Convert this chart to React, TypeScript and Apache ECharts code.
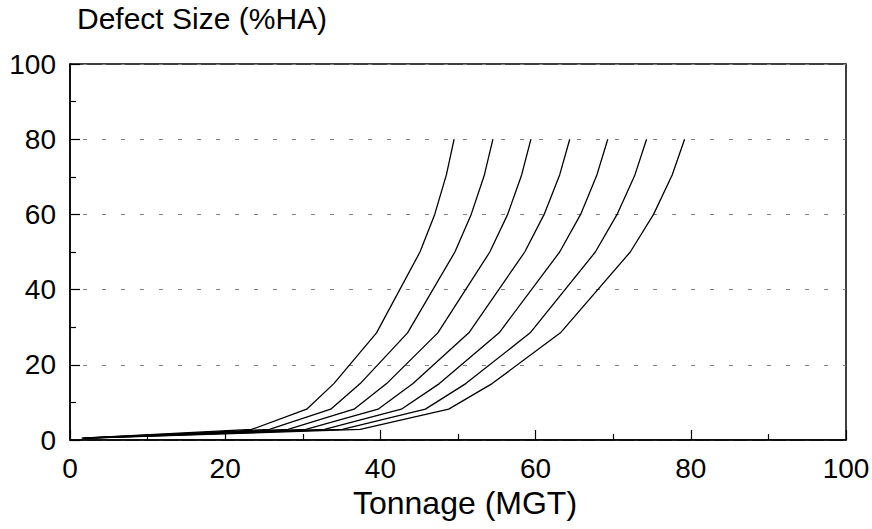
import React, { useEffect, useRef } from "react";
import * as echarts from "echarts";

// Defect size (%HA) at each vertex, shared by all curves
const defectSize = [0.5, 2.8, 8.2, 15, 28.5, 50, 60, 70.5, 80];

// Tonnage (MGT) at each vertex for the seven curves
const tonnage1 = [1.5, 23.4, 30.5, 34.0, 39.5, 45.1, 47.0, 48.5, 49.5];
const tonnage2 = [1.6, 25.7, 33.6, 37.4, 43.5, 49.6, 51.7, 53.4, 54.5];
const tonnage3 = [1.8, 28.1, 36.6, 40.8, 47.4, 54.1, 56.4, 58.2, 59.4];
const tonnage4 = [1.9, 30.4, 39.7, 44.2, 51.4, 58.6, 61.1, 63.1, 64.4];
const tonnage5 = [2.1, 32.8, 42.7, 47.6, 55.3, 63.1, 65.8, 67.9, 69.3];
const tonnage6 = [2.2, 35.1, 45.8, 51.0, 59.3, 67.7, 70.5, 72.8, 74.3];
const tonnage7 = [2.4, 37.4, 48.8, 54.4, 63.2, 72.2, 75.2, 77.6, 79.2];

const curves = [tonnage1, tonnage2, tonnage3, tonnage4, tonnage5, tonnage6, tonnage7];

const xTitle = "Tonnage (MGT)";
const yTitle = "Defect Size (%HA)";

const FONT = "Liberation Sans";

export default function App() {
  const ref = useRef<HTMLDivElement>(null);

  useEffect(() => {
    if (!ref.current) return;
    const chart = echarts.init(ref.current, null, { renderer: "svg" });
    const labelStyle = { color: "#000", fontFamily: FONT, fontSize: 28 };
    const axisCommon = {
      type: "value" as const,
      min: 0,
      max: 100,
      interval: 20,
      axisLine: { show: true, lineStyle: { color: "#000", width: 1.5 } },
      axisTick: { show: true, inside: true, length: 10, lineStyle: { color: "#000", width: 1.2 } },
      minorTick: { show: true, splitNumber: 2, length: 6, lineStyle: { color: "#000", width: 1.2 } },
    };
    chart.setOption({
      animation: false,
      backgroundColor: "#fff",
      textStyle: { fontFamily: FONT },
      grid: {
        left: 70,
        right: 26,
        top: 64,
        bottom: 89,
        show: true,
        borderColor: "#000",
        borderWidth: 1.5,
        backgroundColor: "transparent",
        outerBoundsMode: "none",
        containLabel: false,
      },
      xAxis: {
        ...axisCommon,
        axisLabel: { ...labelStyle, margin: 14, lineHeight: 28 },
        splitLine: { show: false },
      },
      yAxis: {
        ...axisCommon,
        axisLabel: { ...labelStyle, margin: 14 },
        splitLine: {
          show: true,
          lineStyle: { color: "#808080", width: 1.2, type: [4, 15], dashOffset: 6 },
        },
      },
      graphic: [
        {
          type: "text",
          x: 77,
          y: 3,
          style: { text: yTitle, fontFamily: FONT, fontSize: 30, fill: "#000", align: "left", verticalAlign: "top" },
        },
        {
          type: "text",
          x: 465,
          y: 487,
          style: { text: xTitle, fontFamily: FONT, fontSize: 32, fill: "#000", align: "center", verticalAlign: "top" },
        },
      ],
      series: curves.map((xs, i) => ({
        type: "line",
        name: "curve" + (i + 1),
        data: xs.map((x, j) => [x, defectSize[j]]),
        showSymbol: false,
        symbol: "none",
        lineStyle: { color: "#000", width: 1.3 },
        z: 3,
      })),
    });
    return () => chart.dispose();
  }, []);

  return (
    <div
      ref={ref}
      style={{ position: "absolute", left: 0, top: 0, width: 872, height: 529 }}
    />
  );
}
